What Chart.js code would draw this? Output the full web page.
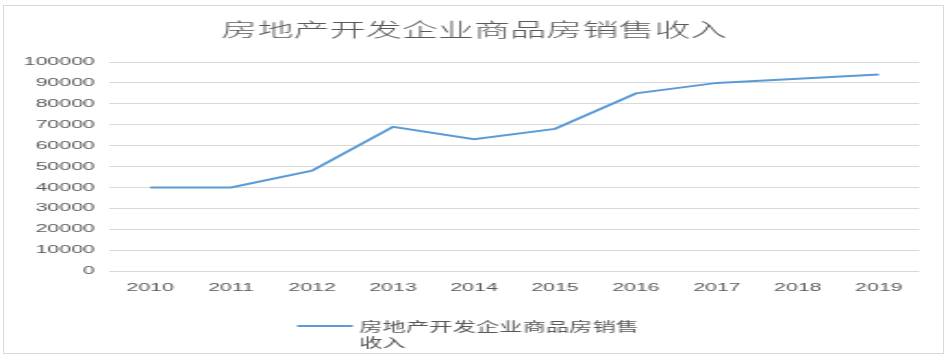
<!DOCTYPE html>
<html>
<head>
<meta charset="utf-8">
<script src="https://cdn.jsdelivr.net/npm/chart.js@4"></script>
<style>
  body { margin: 0; background: #fff; }
  #frame { position: absolute; left: 3px; top: 5px; width: 939px; height: 347px; border: 1px solid #d9d9d9; }
  #salesChart { position: absolute; left: 0; top: 0; transform-origin: 0 0; transform: scaleX(1.8516); }
</style>
</head>
<body>
<div id="frame"></div>
<canvas id="salesChart" width="512" height="362"></canvas>
<script>
const years = ['2010', '2011', '2012', '2013', '2014', '2015', '2016', '2017', '2018', '2019'];
const salesIncome = [40000, 40000, 48000, 69000, 63000, 68000, 85000, 90000, 92000, 94000];
const chartTitle = '房地产开发企业商品房销售收入';
const seriesLabel = ['房地产开发企业商品房销售', '收入'];

const textColor = '#595959';
const gridColor = '#d9d9d9';
const lineColor = '#5b9bd5';

// legend under the axis, text wraps onto two lines like the original
const wrappedLegend = {
    id: 'wrappedLegend',
    afterDraw(chart) {
        const c = chart.ctx;
        const ds = chart.data.datasets[0];
        c.save();
        c.strokeStyle = ds.borderColor;
        c.lineWidth = 2;
        c.beginPath();
        c.moveTo(160.5, 326);
        c.lineTo(190.5, 326);
        c.stroke();
        c.fillStyle = textColor;
        c.font = '12.6px "Noto Sans CJK SC"';
        c.textBaseline = 'middle';
        c.textAlign = 'left';
        seriesLabel.forEach((line, i) => c.fillText(line, 194, 326 + i * 16));
        c.restore();
    },
};

const ctx = document.getElementById('salesChart').getContext('2d');

const salesChart = new Chart(ctx, {
    type: 'line',
    data: {
        labels: years,
        datasets: [{
            label: seriesLabel.join(''),
            data: salesIncome,
            borderColor: lineColor,
            backgroundColor: lineColor,
            borderWidth: 2,
            pointRadius: 0,
            tension: 0,
        }],
    },
    options: {
        responsive: false,
        animation: false,
        layout: {
            padding: { left: 0, right: 0, top: 0, bottom: 53.2 },
        },
        plugins: {
            title: {
                display: true,
                text: chartTitle,
                color: textColor,
                font: { family: '"Noto Sans CJK SC"', size: 19.5, weight: 300 },
                padding: { top: 18, bottom: 20.6 },
            },
            legend: { display: false },
            tooltip: { enabled: false },
        },
        scales: {
            x: {
                offset: true,
                afterFit: (scale) => { scale.height += 4; },
                grid: { display: false, drawTicks: false },
                border: { display: false },
                ticks: {
                    color: textColor,
                    padding: 10,
                    font: { family: '"Liberation Sans"', size: 11.5 },
                },
            },
            y: {
                min: 0,
                max: 100000,
                afterFit: (scale) => { scale.width = 59.2; },
                grid: { color: gridColor, drawTicks: false },
                border: { display: false },
                ticks: {
                    stepSize: 10000,
                    color: textColor,
                    padding: 8,
                    font: { family: '"Liberation Sans"', size: 11.5 },
                    callback: (value) => String(value),
                },
            },
            gap: {
                type: 'linear',
                position: 'right',
                afterFit: (scale) => { scale.width = 15.5; },
                grid: { display: false },
                border: { display: false },
                ticks: { display: false },
            },
        },
    },
    plugins: [wrappedLegend],
});
</script>
</body>
</html>
